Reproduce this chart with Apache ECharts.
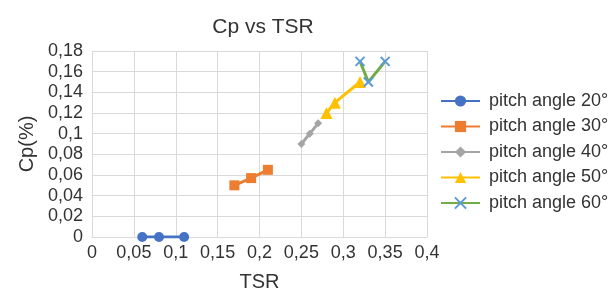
<!DOCTYPE html>
<html>
<head>
<meta charset="utf-8">
<script src="https://cdn.jsdelivr.net/npm/echarts@6/dist/echarts.min.js"></script>
<style>
    html, body { margin: 0; padding: 0; background: #fff; }
    #main { width: 609px; height: 297px; }
</style>
</head>
<body>
<div id="main"></div>
<script>
    // TSR / Cp pairs
    var tsr20 = [0.06, 0.08, 0.11];
    var cp20 = [0, 0, 0];
    var tsr30 = [0.17, 0.19, 0.21];
    var cp30 = [0.05, 0.057, 0.065];
    var tsr40 = [0.25, 0.26, 0.27];
    var cp40 = [0.09, 0.10, 0.11];
    var tsr50 = [0.28, 0.29, 0.32];
    var cp50 = [0.12, 0.13, 0.15];
    var tsr60 = [0.32, 0.33, 0.35];
    var cp60 = [0.17, 0.15, 0.17];
    var names = ['pitch angle 20°', 'pitch angle 30°', 'pitch angle 40°', 'pitch angle 50°', 'pitch angle 60°'];

    function pairs(xs, ys) {
        return xs.map(function (x, i) { return [x, ys[i]]; });
    }
    function comma(v) {
        return String(+v.toFixed(2)).replace('.', ',');
    }

    var font = 'Liberation Sans';
    var cross = 'path://M0,0L10,10M10,0L0,10';

    var myChart = echarts.init(document.getElementById('main'));
    var option = {
        animation: false,
        textStyle: {fontFamily: font},
        title: {
            text: 'Cp vs TSR',
            left: 258, top: 12, textAlign: 'center',
            textStyle: {fontFamily: font, fontSize: 21, fontWeight: 'normal', color: '#333'}
        },
        grid: {left: 92, right: 182, top: 51, bottom: 55},
        legend: {
            orient: 'vertical',
            left: 435, top: 87,
            itemWidth: 39, itemHeight: 14, itemGap: 7.5,
            textStyle: {fontFamily: font, fontSize: 18, color: '#333', padding: [0, 0, 0, 4]},
            data: names
        },
        xAxis: {
            type: 'value', min: 0, max: 0.4, interval: 0.05,
            name: 'TSR', nameLocation: 'middle', nameGap: 35,
            nameTextStyle: {fontFamily: font, fontSize: 20, color: '#333'},
            axisLine: {show: true, lineStyle: {color: '#d9d9d9'}},
            axisTick: {show: false},
            axisLabel: {fontFamily: font, fontSize: 18, color: '#333', margin: 7, formatter: comma},
            splitLine: {lineStyle: {color: '#d9d9d9'}}
        },
        yAxis: {
            type: 'value', min: 0, max: 0.18, interval: 0.02,
            name: 'Cp(%)', nameLocation: 'middle', nameGap: 54,
            nameTextStyle: {fontFamily: font, fontSize: 20, color: '#333'},
            axisLine: {show: true, lineStyle: {color: '#d9d9d9'}},
            axisTick: {show: false},
            axisLabel: {fontFamily: font, fontSize: 18, color: '#333', margin: 9, formatter: comma},
            splitLine: {lineStyle: {color: '#d9d9d9'}}
        },
        series: [
            {
                name: names[0], type: 'line', data: pairs(tsr20, cp20),
                symbol: 'circle', symbolSize: 10,
                lineStyle: {color: '#4472C4', width: 3},
                itemStyle: {color: '#4472C4'}
            },
            {
                name: names[1], type: 'line', data: pairs(tsr30, cp30),
                symbol: 'rect', symbolSize: 10,
                lineStyle: {color: '#ED7D31', width: 3},
                itemStyle: {color: '#ED7D31'}
            },
            {
                name: names[2], type: 'line', data: pairs(tsr40, cp40),
                symbol: 'diamond', symbolSize: 8,
                lineStyle: {color: '#A5A5A5', width: 3},
                itemStyle: {color: '#A5A5A5'}
            },
            {
                name: names[3], type: 'line', data: pairs(tsr50, cp50),
                symbol: 'triangle', symbolSize: 12,
                lineStyle: {color: '#FFC000', width: 3},
                itemStyle: {color: '#FFC000'}
            },
            {
                name: names[4], type: 'line', data: pairs(tsr60, cp60),
                symbol: cross, symbolSize: 9,
                lineStyle: {color: '#70AD47', width: 3},
                itemStyle: {color: '#5B9BD5', borderColor: '#5B9BD5', borderWidth: 2}
            }
        ]
    };
    myChart.setOption(option);
</script>
</body>
</html>
